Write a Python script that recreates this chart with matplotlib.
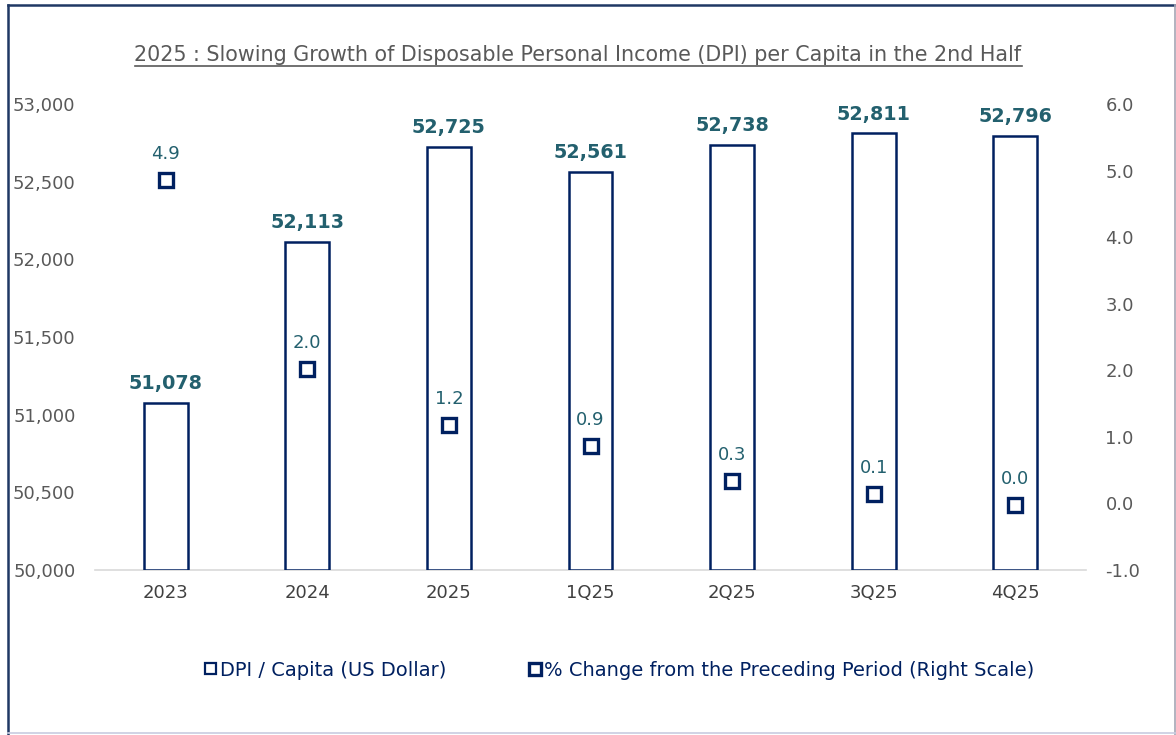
import matplotlib
matplotlib.use("Agg")
import matplotlib.pyplot as plt
from matplotlib.lines import Line2D
from matplotlib.patches import Patch

# data
periods = ["2023", "2024", "2025", "1Q25", "2Q25", "3Q25", "4Q25"]
dpi_per_capita = [51078, 52113, 52725, 52561, 52738, 52811, 52796]
pct_change = [4.86, 2.02, 1.18, 0.87, 0.34, 0.14, -0.02]

left_ticks = [50000, 50500, 51000, 51500, 52000, 52500, 53000]
right_ticks = [-1.0, 0.0, 1.0, 2.0, 3.0, 4.0, 5.0, 6.0]

title = "2025 : Slowing Growth of Disposable Personal Income (DPI) per Capita in the 2nd Half"
bar_label = "DPI / Capita (US Dollar)"
pct_label = "% Change from the Preceding Period (Right Scale)"

NAVY = "#002060"
TEAL = "#23606E"
GRAY = "#595959"

fig = plt.figure(figsize=(11.76, 7.35), dpi=100)
ax = fig.add_axes([95 / 1176, 165 / 735, (1086 - 95) / 1176, (570 - 104) / 735])
ax2 = ax.twinx()

x = list(range(len(periods)))
ax.bar(x, [v - 50000 for v in dpi_per_capita], bottom=50000, width=0.31,
       facecolor="white", edgecolor=NAVY, linewidth=1.8, zorder=2)
for xi, v in zip(x, dpi_per_capita):
    ax.annotate(f"{v:,}", (xi, v), xytext=(0, 7), textcoords="offset points",
                ha="center", va="bottom", fontsize=13.8, fontweight="bold", color=TEAL)

ax2.plot(x, pct_change, linestyle="none", marker="s", markersize=9.5,
         markerfacecolor="white", markeredgecolor=NAVY, markeredgewidth=2.4, zorder=3)
for xi, v in zip(x, pct_change):
    ax2.annotate(f"{v:.1f}".replace("-0.0", "0.0"), (xi, v), xytext=(0, 12),
                 textcoords="offset points", ha="center", va="bottom",
                 fontsize=13, color=TEAL)

ax.set_xlim(-0.5, len(periods) - 0.5)
ax.set_ylim(50000, 53000)
ax2.set_ylim(-1.0, 6.0)
ax.set_xticks(x)
ax.set_xticklabels(periods, fontsize=13, color="#404040")
ax.set_yticks(left_ticks)
ax.set_yticklabels([f"{t:,}" for t in left_ticks], fontsize=13, color=GRAY)
ax2.set_yticks(right_ticks)
ax2.set_yticklabels([f"{t:.1f}" for t in right_ticks], fontsize=13, color=GRAY)

for a in (ax, ax2):
    for s in a.spines.values():
        s.set_visible(False)
    a.tick_params(length=0)
ax.spines["bottom"].set_visible(True)
ax.spines["bottom"].set_color("#D9D9D9")
ax.spines["bottom"].set_linewidth(1.2)
ax.spines["bottom"].set_zorder(1)
ax.tick_params(axis="x", pad=10)
ax.tick_params(axis="y", pad=14)
ax2.tick_params(axis="y", pad=14)
ax.set_zorder(1)
ax2.set_zorder(2)
ax2.patch.set_visible(False)

handles = [
    Patch(facecolor="white", edgecolor=NAVY, linewidth=1.6),
    Line2D([], [], linestyle="none", marker="s", markersize=8,
           markerfacecolor="white", markeredgecolor=NAVY, markeredgewidth=2.4),
]
leg = fig.legend(handles, [bar_label, pct_label], loc="center", ncol=2,
                 bbox_to_anchor=(620 / 1176, 1 - 670 / 735), frameon=False,
                 fontsize=14, handlelength=0.55, handleheight=0.55, handletextpad=0.2,
                 columnspacing=4.3)
for t in leg.get_texts():
    t.set_color(NAVY)

ttl = fig.text(578 / 1176, 1 - 55 / 735, title, ha="center", va="center",
               fontsize=14.9, color=GRAY)
fig.canvas.draw()
bb = ttl.get_window_extent().transformed(fig.transFigure.inverted())
fig.add_artist(Line2D([bb.x0, bb.x1], [bb.y0 - 0.002, bb.y0 - 0.002],
                      transform=fig.transFigure, color=GRAY, linewidth=1.2))

# outer frame
fig.add_artist(Line2D([7.5 / 1176, 7.5 / 1176], [0, 1 - 5 / 735],
                      transform=fig.transFigure, color="#1F3864", linewidth=1.8))
fig.add_artist(Line2D([7.5 / 1176, 1], [1 - 5 / 735, 1 - 5 / 735],
                      transform=fig.transFigure, color="#1F3864", linewidth=1.8))
fig.add_artist(Line2D([1174.5 / 1176, 1174.5 / 1176], [0, 1 - 5 / 735],
                      transform=fig.transFigure, color="#A6A6B4", linewidth=1.2))
fig.add_artist(Line2D([7.5 / 1176, 1], [2 / 735, 2 / 735],
                      transform=fig.transFigure, color="#C8CCE0", linewidth=1.2))

fig.savefig("out.png", dpi=100)
